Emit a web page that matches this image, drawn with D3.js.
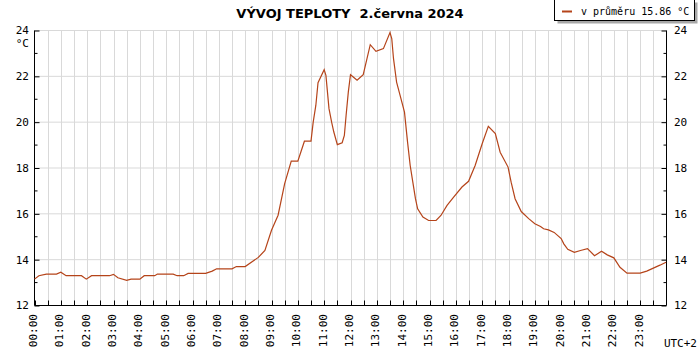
<!DOCTYPE html>
<html><head><meta charset="utf-8">
<script src="https://cdn.jsdelivr.net/npm/d3@7"></script>
<style>
html,body{margin:0;padding:0;background:#fff;}
svg{display:block;}
</style></head>
<body>
<svg id="chart" width="700" height="350"></svg>
<script>
const titleText = "VÝVOJ TEPLOTY  2.června 2024";
const legendText = "v průměru 15.86 °C";
const unitLabel = "°C";
const tzLabel = "UTC+2";
const yTicks = [12, 14, 16, 18, 20, 22, 24];
const hourLabels = ["00:00","01:00","02:00","03:00","04:00","05:00","06:00","07:00","08:00","09:00","10:00","11:00",
  "12:00","13:00","14:00","15:00","16:00","17:00","18:00","19:00","20:00","21:00","22:00","23:00"];
const times = ["00:00","00:10","00:27","00:50","01:00","01:12","01:47","01:58","02:10","02:51","03:00","03:10","03:30","03:40",
  "04:00","04:10","04:34","04:40","05:16","05:25","05:40","05:50","06:30","06:45","06:55","07:30","07:40","08:00","08:30","08:45",
  "09:00","09:15","09:30","09:45","10:00","10:15","10:30","10:35","10:41","10:46","11:00","11:04","11:11","11:17","11:22","11:30",
  "11:41","11:46","11:50","11:55","12:00","12:15","12:29","12:45","12:58","13:15","13:30","13:34","13:38","13:45","13:53","14:03",
  "14:10","14:16","14:22","14:28","14:33","14:45","14:58","15:15","15:26","15:40","15:55","16:14","16:29","16:44","17:00","17:14",
  "17:30","17:41","17:59","18:06","18:15","18:29","18:46","19:00","19:13","19:20","19:31","19:44","20:00","20:06","20:15","20:30",
  "20:44","21:00","21:16","21:32","21:45","22:00","22:14","22:30","23:00","23:15","23:30","23:45","23:59"];
const temps = [13.15,13.3,13.37,13.37,13.45,13.3,13.3,13.15,13.3,13.3,13.36,13.21,13.1,13.15,
  13.15,13.3,13.3,13.37,13.37,13.3,13.3,13.4,13.4,13.5,13.6,13.6,13.7,13.7,14.1,14.4,
  15.28,15.94,17.32,18.3,18.3,19.17,19.17,20.0,20.73,21.72,22.29,22.04,20.59,20.0,19.57,19.02,
  19.1,19.42,20.3,21.31,22.07,21.83,22.07,23.38,23.09,23.21,23.91,23.65,22.77,21.75,21.17,20.44,
  19.13,18.11,17.38,16.66,16.22,15.86,15.71,15.71,15.93,16.37,16.73,17.17,17.42,18.11,19.06,19.82,
  19.5,18.69,18.04,17.38,16.66,16.1,15.79,15.57,15.45,15.35,15.3,15.19,14.92,14.69,14.45,14.32,
  14.4,14.48,14.17,14.37,14.21,14.08,13.67,13.41,13.41,13.5,13.63,13.76,13.89];

const lineColor = "#b5441a";
const gridColor = "#d9d9d9";
const monoFont = "'DejaVu Sans Mono', monospace";

const svg = d3.select("#chart");
const toH = s => { const [h, m] = s.split(":").map(Number); return h + m / 60; };
const data = times.map((t, i) => ({ h: toH(t), v: temps[i] }));

const x = d3.scaleLinear().domain([0, 24]).range([34.5, 666.5]);
const y = d3.scaleLinear().domain([12, 24]).range([305.5, 30.5]);

// grid
const halfHours = d3.range(1, 48).map(d => d / 2);
svg.append("g").selectAll("line").data(halfHours).join("line")
  .attr("x1", d => Math.round(x(d)) + 0.5).attr("x2", d => Math.round(x(d)) + 0.5)
  .attr("y1", y(24)).attr("y2", y(12))
  .attr("stroke", gridColor).attr("stroke-width", 1);
svg.append("g").selectAll("line").data(yTicks.filter(d => d > 12)).join("line")
  .attr("x1", x(0)).attr("x2", x(24))
  .attr("y1", d => y(d)).attr("y2", d => y(d))
  .attr("stroke", gridColor).attr("stroke-width", 1);

// axes
const minorY = d3.range(13, 24, 2);
const leftAxis = d3.axisRight(y).tickValues(yTicks).tickSize(5).tickFormat("");
const gl = svg.append("g").attr("transform", `translate(${x(0)},0)`).call(leftAxis);
gl.select(".domain").attr("d", `M0,${y(24)}V${y(12)}`);
gl.selectAll(".tick line").attr("stroke", "#000");
gl.append("g").selectAll("line").data(minorY).join("line")
  .attr("x1", 0).attr("x2", 3).attr("y1", d => y(d)).attr("y2", d => y(d)).attr("stroke", "#000");

const rightAxis = d3.axisLeft(y).tickValues(yTicks).tickSize(5).tickFormat("");
const gr = svg.append("g").attr("transform", `translate(${x(24)},0)`).call(rightAxis);
gr.select(".domain").attr("d", `M0,${y(24)}V${y(12)}`);
gr.append("g").selectAll("line").data(minorY).join("line")
  .attr("x1", 0).attr("x2", -3).attr("y1", d => y(d)).attr("y2", d => y(d)).attr("stroke", "#000");

const bottomAxis = d3.axisTop(x).tickValues(d3.range(0, 48).map(d => d / 2)).tickSize(5).tickFormat("");
const gb = svg.append("g").attr("transform", `translate(0,${y(12)})`).call(bottomAxis);
gb.select(".domain").attr("d", `M${x(0)},0H${x(24)}`);
gb.selectAll(".tick").attr("transform", d => `translate(${Math.round(x(d)) + 0.5},0)`);

svg.selectAll(".domain").attr("stroke", "#000");

// y labels
svg.append("g").selectAll("text").data(yTicks).join("text")
  .attr("x", 29).attr("y", d => y(d)).attr("dy", "0.35em")
  .attr("text-anchor", "end").attr("font-family", monoFont).attr("font-size", 11).attr("fill", "#000")
  .text(d => d);
svg.append("g").selectAll("text").data(yTicks).join("text")
  .attr("x", 674).attr("y", d => y(d)).attr("dy", "0.35em")
  .attr("text-anchor", "start").attr("font-family", monoFont).attr("font-size", 11).attr("fill", "#000")
  .text(d => d);
svg.append("text").attr("x", 29).attr("y", 47).attr("text-anchor", "end")
  .attr("font-family", monoFont).attr("font-size", 11).text(unitLabel);

// x labels
svg.append("g").selectAll("text").data(hourLabels).join("text")
  .attr("transform", (d, i) => `translate(${x(i) - 1.5},314) rotate(-90)`)
  .attr("text-anchor", "end").attr("dy", "0.35em")
  .attr("font-family", monoFont).attr("font-size", 11).attr("fill", "#000")
  .text(d => d);
svg.append("text").attr("x", 697).attr("y", 347).attr("text-anchor", "end")
  .attr("font-family", monoFont).attr("font-size", 11).text(tzLabel);

// line
svg.append("path").datum(data)
  .attr("fill", "none").attr("stroke", lineColor).attr("stroke-width", 1.2)
  .attr("d", d3.line().x(d => x(d.h)).y(d => y(d.v)));

// title
svg.append("text").attr("x", 350).attr("y", 18).attr("text-anchor", "middle")
  .attr("font-family", "'DejaVu Sans', sans-serif").attr("font-weight", "bold").attr("font-size", 13)
  .style("white-space", "pre").text(titleText);

// legend
const lg = svg.append("g");
lg.append("rect").attr("x", 557.5).attr("y", 2.5).attr("width", 140).attr("height", 21).attr("fill", "#a8a8a8");
lg.append("rect").attr("x", 554.5).attr("y", -0.5).attr("width", 140).attr("height", 21)
  .attr("fill", "#fff").attr("stroke", "#000");
lg.append("line").attr("x1", 562).attr("x2", 572).attr("y1", 11.5).attr("y2", 11.5)
  .attr("stroke", lineColor).attr("stroke-width", 2);
lg.append("text").attr("x", 581).attr("y", 15).attr("font-family", monoFont).attr("font-size", 10)
  .text(legendText);
</script>
</body></html>
